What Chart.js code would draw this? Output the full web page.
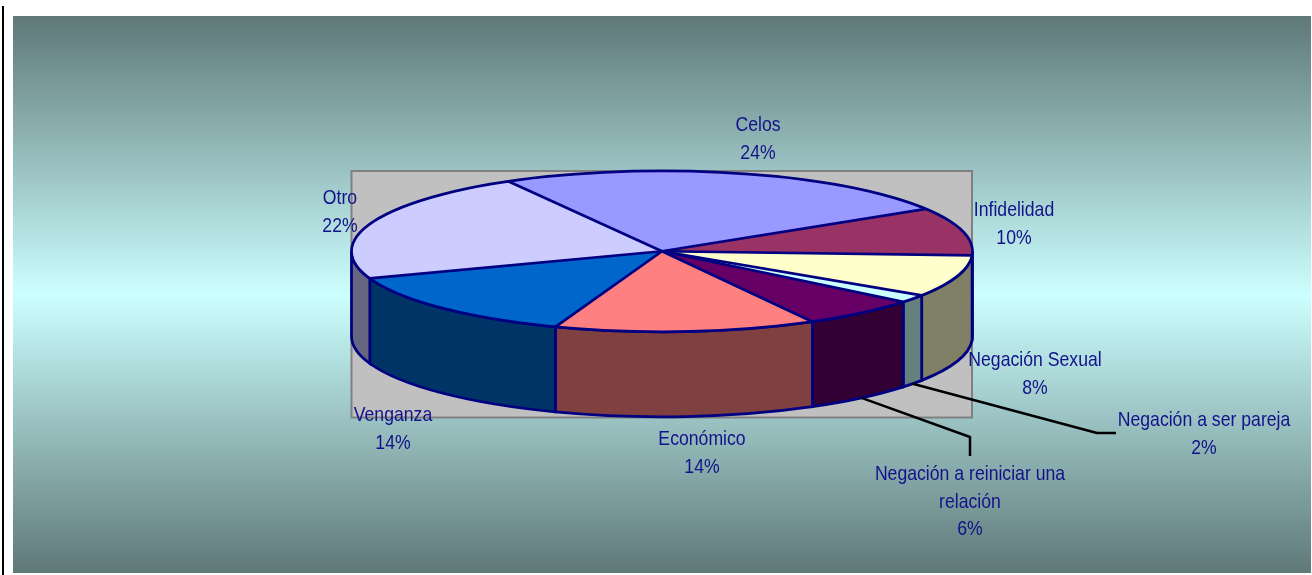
<!DOCTYPE html>
<html>
<head>
<meta charset="utf-8">
<style>
  body { margin: 0; background: #fff; overflow: hidden; }
  canvas { display: block; }
</style>
<script src="https://cdn.jsdelivr.net/npm/chart.js@4/dist/chart.umd.min.js"></script>
</head>
<body>
<canvas id="motivosChart" width="1312" height="575"></canvas>
<script>
// Data for the chart
const categories = ['Celos', 'Infidelidad', 'Negación Sexual', 'Negación a ser pareja',
    ['Negación a reiniciar una', 'relación'], 'Económico', 'Venganza', 'Otro'];
const values = [24.4, 9.6, 8.4, 1.6, 6.1, 13.6, 13.9, 22.2];
const topColors = ['#9999FF', '#993366', '#FFFFCC', '#CCFFFF', '#660066', '#FF8080', '#0066CC', '#CCCCFF'];
const sideColors = ['#666699', '#4D1A33', '#808066', '#668080', '#330033', '#804040', '#003366', '#666680'];

// First line centre of each label, same order as categories
const labelSpots = [[758, 125], [1014, 210], [1035, 360], [1204, 420], [970, 474], [702, 439], [393, 415], [340, 198]];
// Leader lines: slice index -> elbow points after the start on the rim
const leaders = { 3: [[1097, 433], [1116, 433]], 4: [[970, 437], [970, 456]] };

const RX = 310.5, RY = 80.5, DEPTH = 85;
const NAVY = '#000080';
const TEXT_SQUEEZE = 0.84, LINE_H = 27.8;

function arcsOf(chart) { return chart.getDatasetMeta(0).data; }

const pie3d = {
    id: 'pie3d',
    beforeDraw(chart) {
        const ctx = chart.ctx;
        const grad = ctx.createLinearGradient(0, 16, 0, 573);
        grad.addColorStop(0, '#5F7878');
        grad.addColorStop(0.5, '#CCFFFF');
        grad.addColorStop(1, '#5F7878');
        ctx.fillStyle = grad;
        ctx.fillRect(13, 16, 1298, 557);
        ctx.fillStyle = '#000';
        ctx.fillRect(2, 6, 2, 569);
        // plot area
        ctx.fillStyle = '#C0C0C0';
        ctx.fillRect(351.5, 171, 620.5, 246.5);
        ctx.strokeStyle = '#808080';
        ctx.lineWidth = 2;
        ctx.strokeRect(351.5, 171, 620.5, 246.5);
    },
    beforeDatasetsDraw(chart) {
        const ctx = chart.ctx;
        const arcs = arcsOf(chart);
        const { x, y } = arcs[0];
        // side wall, only the front half shows
        arcs.forEach((arc, i) => {
            const a0 = Math.max(arc.startAngle, 0), a1 = Math.min(arc.endAngle, Math.PI);
            if (a1 <= a0) return;
            ctx.beginPath();
            ctx.ellipse(x, y + DEPTH, RX, RY, 0, a0, a1);
            ctx.ellipse(x, y, RX, RY, 0, a1, a0, true);
            ctx.closePath();
            ctx.fillStyle = sideColors[i];
            ctx.fill();
            ctx.strokeStyle = NAVY;
            ctx.lineWidth = 2.75;
            ctx.stroke();
        });
        // squash the library's round pie into the top face
        ctx.save();
        ctx.translate(x, y);
        ctx.scale(1, RY / RX);
        ctx.translate(-x, -y);
    },
    afterDatasetsDraw(chart) {
        const ctx = chart.ctx;
        ctx.restore();
        const arcs = arcsOf(chart);
        const { x, y } = arcs[0];

        // outlines in page pixels so they keep an even width
        ctx.strokeStyle = NAVY;
        ctx.lineWidth = 2.75;
        ctx.lineJoin = 'round';
        arcs.forEach(arc => {
            ctx.beginPath();
            ctx.moveTo(x, y);
            ctx.lineTo(x + RX * Math.cos(arc.startAngle), y + RY * Math.sin(arc.startAngle));
            ctx.stroke();
        });
        ctx.beginPath();
        ctx.ellipse(x, y, RX, RY, 0, 0, Math.PI * 2);
        ctx.stroke();

        // leader lines
        ctx.strokeStyle = '#000';
        ctx.lineWidth = 2.5;
        Object.keys(leaders).forEach(i => {
            const arc = arcs[i];
            const mid = (arc.startAngle + arc.endAngle) / 2;
            ctx.beginPath();
            ctx.moveTo(x + RX * Math.cos(mid), y + DEPTH + RY * Math.sin(mid));
            leaders[i].forEach(p => ctx.lineTo(p[0], p[1]));
            ctx.stroke();
        });

        // labels
        ctx.font = '21px "Liberation Sans"';
        ctx.fillStyle = '#12128A';
        ctx.textAlign = 'center';
        ctx.textBaseline = 'middle';
        categories.forEach((name, i) => {
            const lines = [].concat(name, Math.round(values[i]) + '%');
            lines.forEach((line, n) => {
                ctx.save();
                ctx.translate(labelSpots[i][0], labelSpots[i][1] + n * LINE_H);
                ctx.scale(TEXT_SQUEEZE, 1);
                ctx.fillText(line, 0, 0);
                ctx.restore();
            });
        });
    }
};

const ctx = document.getElementById('motivosChart').getContext('2d');

const motivosChart = new Chart(ctx, {
    type: 'pie',
    data: {
        labels: categories,
        datasets: [{
            data: values,
            backgroundColor: topColors,
            borderWidth: 0
        }]
    },
    options: {
        responsive: false,
        animation: false,
        events: [],
        radius: RX,
        rotation: -29.7,
        layout: { padding: { left: 12, right: 0, top: 0, bottom: 72.5 } },
        plugins: {
            legend: { display: false },
            tooltip: { enabled: false }
        }
    },
    plugins: [pie3d]
});
</script>
</body>
</html>
